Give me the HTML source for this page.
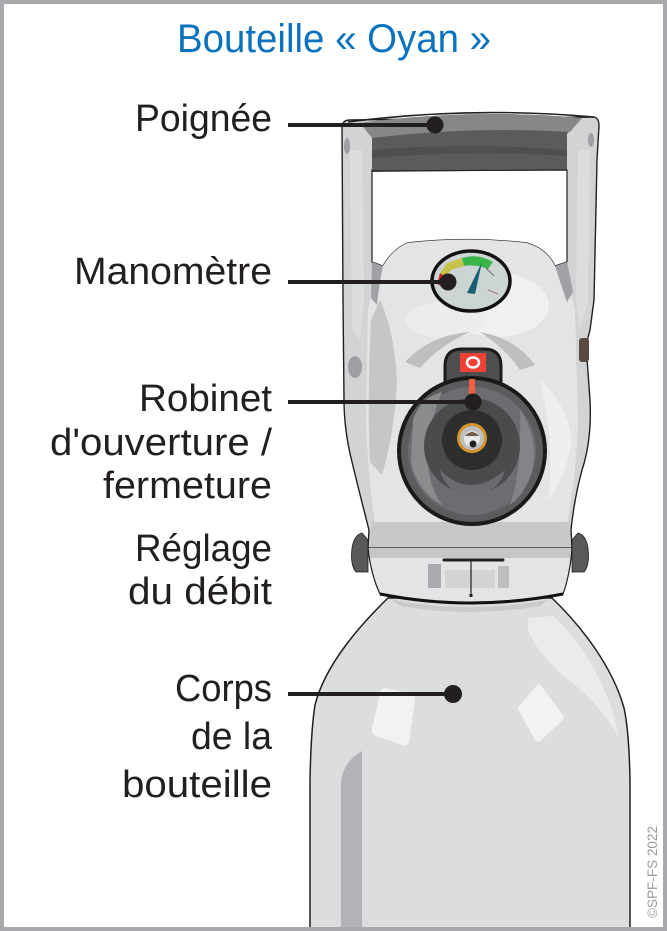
<!DOCTYPE html>
<html>
<head>
<meta charset="utf-8">
<style>
html,body{margin:0;padding:0;background:#fff;}
body{width:667px;height:931px;overflow:hidden;}
svg{display:block;}
text{font-family:"Liberation Sans",Arial,sans-serif;}
</style>
</head>
<body>
<svg width="667" height="931" viewBox="0 0 667 931" xmlns="http://www.w3.org/2000/svg">
<rect width="667" height="931" fill="#fff"/>

<!-- ===== Cylinder body ===== -->
<path d="M388,598 C360,625 325,665 315,705 Q311,730 310,780 L310,931 L630,931 L630,780 Q629,730 624,708 C612,665 580,625 552,598 Z" fill="#dcdddf" stroke="#231f20" stroke-width="1.5"/>
<path d="M528,618 L553,616 C585,645 610,690 619,738 C600,705 582,690 566,678 C548,662 535,648 528,630 Z" fill="#eaebec"/>
<path d="M341,931 L341,782 Q343,762 362,751 L362,931 Z" fill="#b1b3b6"/>
<path d="M386,688 L412,694 Q416,696 415,700 L409,742 Q408,747 402,745 L376,736 Q371,734 372,729 L380,693 Q382,687 386,688 Z" fill="#f2f2f3"/>
<path d="M539,683 L563,715 Q565,718 562,721 L540,741 Q537,743 535,740 L519,711 Q517,707 520,705 Z" fill="#f2f2f3"/>
<path d="M392,600 Q470,614 548,600 L540,606 Q470,618 400,606 Z" fill="#c9cacc"/>

<!-- ===== Valve: outer silhouette (arms) ===== -->
<path d="M342,126 Q343,120 350,120 L594,117 Q599,118 599,126 L597,160 L594,300 L590,330 L586,345 L590,400 Q592,440 582,470 Q574,500 571,530 L572,548 L368,548 L369,530 Q360,495 352,462 Q344,430 344,400 L343,300 Z" fill="#d1d3d4" stroke="#231f20" stroke-width="1.4"/>
<path d="M350,150 L362,150 L364,300 L360,340 L352,330 Z" fill="#dcdddf"/>
<path d="M578,150 L590,150 L588,300 L580,330 L576,300 Z" fill="#dcdddf"/>
<!-- handle opening -->
<path d="M372,170 L567,170 L567,262 L555,266 Q547,249 527,243 Q467,236 407,243 Q392,250 383,266 L372,262 Z" fill="#fff" stroke="#231f20" stroke-width="1.2"/>
<!-- head / central body -->
<path d="M407,243 Q467,236 527,243 Q547,249 555,266 Q570,285 575,310 L578,420 Q576,480 566,530 L376,530 Q368,480 366,420 L368,310 Q372,285 383,266 Q392,250 407,243 Z" fill="#e3e4e5"/>
<path d="M372,262 L383,266 Q379,285 377,305 L371,298 Z" fill="#9fa1a4"/>
<path d="M567,262 L555,266 Q561,285 567,302 L573,292 Z" fill="#9fa1a4"/>
<path d="M380,300 Q394,330 397,380 Q395,430 382,475 L370,462 Q367,400 371,320 Z" fill="#c4c6c8"/>
<ellipse cx="497" cy="305" rx="52" ry="32" fill="#f0f0f1"/>
<ellipse cx="445" cy="320" rx="40" ry="18" fill="#ebeced"/>
<path d="M540,380 Q565,400 572,440 Q565,480 548,500 Q556,450 540,380 Z" fill="#eeeff0"/>
<path d="M405,362 Q430,335 470,332 Q440,345 420,368 Z" fill="#bcbec0"/>
<path d="M535,365 Q515,338 480,332 Q505,348 520,370 Z" fill="#bcbec0"/>
<path d="M372,522 L570,522 L571,548 L369,548 Z" fill="#c6c8ca"/>
<ellipse cx="355" cy="367" rx="7" ry="11" fill="#9d9fa2"/>
<ellipse cx="347" cy="146" rx="3" ry="8" fill="#9d9fa2"/>
<ellipse cx="591" cy="140" rx="3" ry="7" fill="#9d9fa2"/>
<rect x="579" y="338" width="10" height="24" rx="3" fill="#5a4a42"/>

<!-- ===== Grip ===== -->
<path d="M360,123 Q470,108 582,118 L567,134 L567,170 L372,172 L372,134 Z" fill="#5a5b5d"/>
<path d="M360,123 Q470,108 582,118 L570,132 Q470,126 372,138 Z" fill="#858789"/>
<path d="M372,150 Q470,142 567,150 L567,156 Q470,150 372,158 Z" fill="#4e4f51"/>
<path d="M348,122 Q470,106 594,117" fill="none" stroke="#231f20" stroke-width="1.6"/>
<line x1="372" y1="171" x2="567" y2="170" stroke="#231f20" stroke-width="1.2"/>

<!-- ===== Gauge ===== -->
<ellipse cx="471" cy="281" rx="39" ry="30" fill="#cdd4d4" stroke="#111" stroke-width="3.5"/>
<path d="M440,273 L447,263 L462,258 L464,266 L451,270 L445,277 Z" fill="#c6c24a"/>
<path d="M462,258 Q478,253 493,262 L488,269 Q476,264 464,266 Z" fill="#39b54a"/>
<path d="M437,284 L440,273 L444,276 L441,286 Z" fill="#d2232a"/>
<path d="M467,293 L482,262 L475,294 Z" fill="#1b5e73"/>
<path d="M486,268 L494,276" stroke="#6d6e71" stroke-width="1"/>
<path d="M488,290 L498,294" stroke="#b07080" stroke-width="1.2"/>

<!-- ===== Collar ===== -->
<path d="M368,548 L572,548 Q570,575 563,594 Q470,612 380,594 Q371,575 368,548 Z" fill="#e3e4e5" stroke="#231f20" stroke-width="1.2"/>
<path d="M369,548 L571,548 L570,558 L370,558 Z" fill="#c4c6c8"/>
<rect x="428" y="564" width="13" height="24" fill="#a9abae"/>
<rect x="498" y="566" width="11" height="22" fill="#bcbec0"/>
<rect x="445" y="570" width="50" height="18" fill="#d1d3d4"/>
<path d="M380,594 Q470,612 563,594" fill="none" stroke="#111" stroke-width="3"/>
<line x1="444" y1="560" x2="503" y2="560" stroke="#231f20" stroke-width="3" stroke-linecap="round"/>
<line x1="471" y1="560" x2="471" y2="596" stroke="#231f20" stroke-width="1.2"/>
<rect x="469.5" y="594" width="3" height="3" fill="#231f20"/>
<path d="M352,548 Q354,535 362,533 L368,540 L368,572 L356,572 Q350,565 352,548 Z" fill="#58595b" stroke="#231f20" stroke-width="0.8"/>
<path d="M588,548 Q586,535 578,533 L572,540 L572,572 L584,572 Q590,565 588,548 Z" fill="#58595b" stroke="#231f20" stroke-width="0.8"/>

<!-- ===== Knob ===== -->
<path d="M445,395 L445,366 Q445,349 462,349 L484,349 Q501,349 501,366 L501,395 Z" fill="#4d4e50" stroke="#1a1a1a" stroke-width="3"/>
<circle cx="472" cy="451" r="73" fill="#5b5c5e" stroke="#1a1a1a" stroke-width="4"/>
<circle cx="472" cy="451" r="64" fill="#6c6d70"/>
<path d="M413,420 Q420,398 442,392 Q430,420 428,450 Q426,482 442,505 Q418,492 411,462 Z" fill="#8a8c8e"/>
<path d="M520,410 Q535,430 534,460 Q530,490 510,505 Q522,470 520,410 Z" fill="#828487"/>
<circle cx="472" cy="446" r="48" fill="#4a4b4d"/>
<path d="M440,470 Q470,500 505,470 Q500,492 472,496 Q446,494 440,470 Z" fill="#6a6b6e"/>
<circle cx="472" cy="440" r="30" fill="#2d2d2f"/>
<rect x="460" y="353" width="26" height="19" fill="#ef4136"/>
<ellipse cx="473" cy="362.5" rx="6" ry="5" fill="none" stroke="#fff" stroke-width="2.5"/>
<rect x="469" y="379" width="6" height="16" fill="#f26040"/>
<circle cx="472" cy="438" r="13.5" fill="#bdbec0" stroke="#d4942a" stroke-width="3"/>
<circle cx="472" cy="439" r="8" fill="#e6e7e8"/>
<path d="M465,436 Q472,428 479,436 Z" fill="#6b5a50"/>
<circle cx="473" cy="444" r="3.5" fill="#231f20"/>

<!-- ===== Callout lines ===== -->
<g stroke="#231f20" stroke-width="4">
<line x1="288" y1="125" x2="435" y2="125"/>
<line x1="288" y1="282" x2="448" y2="282"/>
<line x1="288" y1="402" x2="473" y2="402"/>
<line x1="288" y1="694" x2="453" y2="694"/>
</g>
<g fill="#231f20">
<circle cx="435" cy="125" r="8.5"/>
<circle cx="448" cy="282" r="8.5"/>
<circle cx="473" cy="402" r="8.5"/>
<circle cx="453" cy="694" r="9"/>
</g>

<!-- ===== Texts ===== -->
<text x="334" y="52" font-size="40" fill="#0b72bd" text-anchor="middle" textLength="314" lengthAdjust="spacingAndGlyphs">Bouteille « Oyan »</text>
<g font-size="38" fill="#231f20" text-anchor="end" lengthAdjust="spacingAndGlyphs">
<text x="272" y="131" textLength="137" lengthAdjust="spacingAndGlyphs">Poignée</text>
<text x="272" y="284" textLength="198" lengthAdjust="spacingAndGlyphs">Manomètre</text>
<text x="272" y="411" textLength="133" lengthAdjust="spacingAndGlyphs">Robinet</text>
<text x="272" y="455" textLength="222" lengthAdjust="spacingAndGlyphs">d'ouverture /</text>
<text x="272" y="498" textLength="169" lengthAdjust="spacingAndGlyphs">fermeture</text>
<text x="272" y="561" textLength="137" lengthAdjust="spacingAndGlyphs">Réglage</text>
<text x="272" y="604" textLength="144" lengthAdjust="spacingAndGlyphs">du débit</text>
<text x="272" y="701" textLength="97" lengthAdjust="spacingAndGlyphs">Corps</text>
<text x="272" y="749" textLength="81" lengthAdjust="spacingAndGlyphs">de la</text>
<text x="272" y="797" textLength="150" lengthAdjust="spacingAndGlyphs">bouteille</text>
</g>
<text transform="translate(657,918) rotate(-90)" font-size="13.5" fill="#9a9c9f" textLength="92" lengthAdjust="spacingAndGlyphs">©SPF-FS 2022</text>

<!-- ===== Border ===== -->
<rect x="0" y="0" width="667" height="4" fill="#a7a9ac"/>
<rect x="0" y="0" width="4" height="931" fill="#a7a9ac"/>
<rect x="663" y="0" width="4" height="931" fill="#a7a9ac"/>
<rect x="0" y="927" width="667" height="4" fill="#a7a9ac"/>
</svg>
</body>
</html>
